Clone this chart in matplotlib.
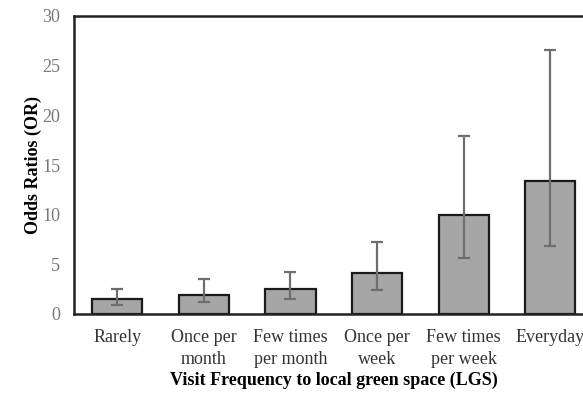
import numpy as np
import matplotlib.pyplot as plt

categories = ['Rarely', 'Once per\nmonth', 'Few times\nper month', 'Once per\nweek',
              'Few times\nper week', 'Everyday']
odds = [1.5, 1.9, 2.5, 4.1, 10.0, 13.4]
ci_low = [0.9, 1.2, 1.5, 2.4, 5.6, 6.8]
ci_high = [2.5, 3.5, 4.2, 7.2, 17.9, 26.6]

plt.rcParams['font.family'] = 'Liberation Serif'

fig = plt.figure(figsize=(5.83, 3.95), dpi=100)
W, H = 583, 395
ax = fig.add_axes([74 / W, 1 - 314 / H, (593.5 - 74) / W, (314 - 16) / H])

x = np.arange(len(categories))
odds_arr = np.array(odds)
yerr = [odds_arr - np.array(ci_low), np.array(ci_high) - odds_arr]

ax.bar(x, odds, width=0.58, color='#a6a6a6', edgecolor='#1a1a1a', linewidth=1.6, zorder=2)
ax.errorbar(x, odds, yerr=yerr, fmt='none', ecolor='#6e6e6e', elinewidth=1.6,
            capsize=4.5, capthick=1.6, zorder=3)

ax.set_xlim(-0.5, 5.5)
ax.set_ylim(0, 30)
ax.set_yticks(range(0, 31, 5))
ax.set_xticks(x)
ax.set_xticklabels(categories, fontsize=13, color='#333333', linespacing=1.35)
ax.tick_params(axis='y', length=0, pad=10, labelsize=13, labelcolor='#777777')
ax.tick_params(axis='x', length=0, pad=11)

for side in ['left', 'top', 'bottom', 'right']:
    ax.spines[side].set_linewidth(1.8)
    ax.spines[side].set_color('#222222')

ax.set_ylabel('Odds Ratios (OR)', fontsize=13, fontweight='bold', labelpad=0)
ax.set_xlabel('Visit Frequency to local green space (LGS)', fontsize=13,
              fontweight='bold', labelpad=3)

fig.savefig('out.png', dpi=100)
